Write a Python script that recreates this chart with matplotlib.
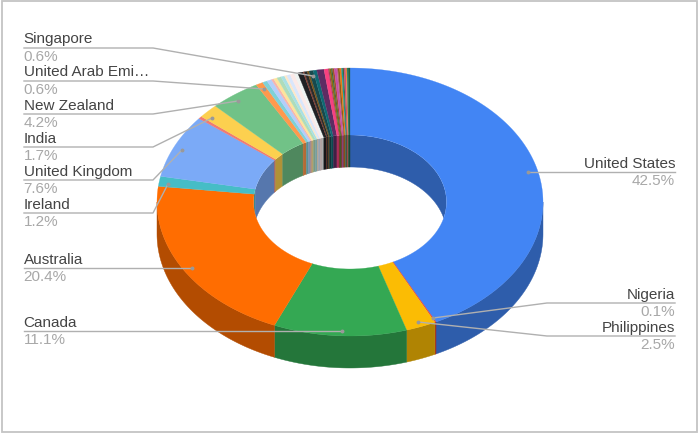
import numpy as np
import matplotlib
matplotlib.use('Agg')
import matplotlib.pyplot as plt
from matplotlib.colors import to_rgb
from matplotlib.patches import Ellipse, Rectangle

plt.rcParams['font.family'] = ['Liberation Sans', 'DejaVu Sans']

# the data, clockwise from 12 o'clock
countries = ['United States', 'Nigeria', 'Philippines', 'Canada', 'Australia', 'Ireland',
             'United Kingdom', 'other1', 'India', 'New Zealand', 'United Arab Emi…',
             'o2', 'o3', 'o4', 'o5', 'o6', 'o7', 'o8', 'o9', 'o10', 'o11',
             'o12', 'o13', 'o14', 'o15', 'o16', 'o17', 'Singapore',
             'o18', 'o19', 'o20', 'o21', 'o22', 'o23', 'o24', 'o25', 'o26', 'o27',
             'o28', 'o29', 'o30', 'o31', 'o32']
shares = [42.5, 0.1, 2.5, 11.1, 20.4, 1.2,
          7.6, 0.3, 1.7, 4.2, 0.6,
          0.4, 0.4, 0.2, 0.3, 0.35, 0.3, 0.2, 0.3, 0.35, 0.3,
          0.45, 0.1, 0.25, 0.15, 0.35, 0.3, 0.6,
          0.35, 0.1, 0.15, 0.1, 0.15, 0.2, 0.1, 0.15, 0.15, 0.1,
          0.1, 0.15, 0.1, 0.1, 0.15]
colors = ['#4285f4', '#ea4335', '#fbbc04', '#34a853', '#ff6d01', '#46bdc6',
          '#7baaf7', '#f07b72', '#fcd04f', '#71c287', '#ff994d',
          '#7ed1d7', '#b3cefb', '#f7b4ae', '#fde49b', '#aedcba', '#a9e0e4', '#fee8c8',
          '#d9e6fc', '#fbe9e7', '#eef3f1',
          '#202124', '#8a3b2c', '#2b2b2b', '#7a5518', '#17494d', '#0f6a75', '#5e2c63',
          '#f8407f', '#a03d5c', '#8a6a10', '#2f6b3a', '#a0522d', '#c64fa8', '#c06090',
          '#8d5a1a', '#e67c13', '#159aa5',
          '#3a6b3a', '#c94f7c', '#f28b3a', '#2a7a6a', '#20603d']

label_names = ['Singapore', 'United Arab Emi…', 'New Zealand', 'India', 'United Kingdom',
               'Ireland', 'Australia', 'Canada']
label_pcts = ['0.6%', '0.6%', '4.2%', '1.7%', '7.6%', '1.2%', '20.4%', '11.1%']
right_names = ['United States', 'Nigeria', 'Philippines']
right_pcts = ['42.5%', '0.1%', '2.5%']

cx, cy = 350, 202
rx, ry = 193, 134
hx, hy = 96.5, 67
depth = 32

fig = plt.figure(figsize=(7, 4.36), dpi=100)
ax = fig.add_axes([0, 0, 1, 1])
ax.set_xlim(0, 700)
ax.set_ylim(436, 0)
ax.axis('off')

ax.add_patch(Rectangle((1.5, 1), 695, 431, fill=False, ec='#c4c4c4', lw=1.3))


def ring_xy(a, x_r, y_r, dy=0):
    t = np.radians(a)
    return cx + x_r * np.sin(t), cy - y_r * np.cos(t) + dy


def darker(c, f=0.7):
    return tuple(v * f for v in to_rgb(c))


edges = np.concatenate([[0], np.cumsum(shares)]) / sum(shares) * 360
hole = Ellipse((cx, cy), 2 * hx, 2 * hy, transform=ax.transData, fc='none', ec='none')
ax.add_patch(hole)

for i in range(len(shares)):
    a0, a1 = edges[i], edges[i + 1]
    c = colors[i]

    # outer wall, front half only
    s0, s1 = max(a0, 90), min(a1, 270)
    if s1 > s0:
        aa = np.linspace(s0, s1, 60)
        x, y = ring_xy(aa, rx, ry)
        ax.fill(np.r_[x, x[::-1]], np.r_[y, y[::-1] + depth], color=darker(c), lw=0.3, zorder=1)

    # inner wall, far half only, seen through the hole
    for s0, s1 in [(a0, min(a1, 90)), (max(a0, 270), a1)]:
        if s1 > s0:
            aa = np.linspace(s0, s1, 40)
            x, y = ring_xy(aa, hx, hy)
            p = ax.fill(np.r_[x, x[::-1]], np.r_[y, y[::-1] + depth],
                        color=darker(c), lw=0.3, zorder=1)
            p[0].set_clip_path(hole)

    # top face
    aa = np.linspace(a0, a1, max(int(a1 - a0) * 2, 4))
    xo, yo = ring_xy(aa, rx, ry)
    xi, yi = ring_xy(aa, hx, hy)
    ax.fill(np.r_[xo, xi[::-1]], np.r_[yo, yi[::-1]], color=c, lw=0.2, zorder=2)

# leaders
line_c = '#b0b0b0'
left_lines = [
    ([24, 153, 313], [48, 48, 76]),
    ([24, 153, 264], [81, 81, 89]),
    ([24, 153, 238], [114, 114, 101]),
    ([24, 153, 212], [147, 147, 118]),
    ([24, 153, 182], [180, 180, 150]),
    ([24, 153, 168], [213, 213, 184]),
    ([24, 192], [268, 268]),
    ([24, 342], [331, 331]),
]
right_lines = [
    ([675, 575, 528], [172, 172, 172]),
    ([675, 547, 433], [303, 303, 318]),
    ([675, 547, 418], [336, 336, 322]),
]
for xs, ys in left_lines + right_lines:
    ax.plot(xs, ys, color=line_c, lw=1.0, zorder=3, solid_joinstyle='round')
    ax.plot(xs[-1], ys[-1], 'o', ms=1.8, color='#999999', zorder=3)

name_c = '#444444'
pct_c = '#a8a8a8'
fs = 11
for (xs, ys), n, p in zip(left_lines, label_names, label_pcts):
    ax.text(23.5, ys[0] - 1.5, n, color=name_c, fontsize=fs, ha='left', va='bottom', zorder=4)
    ax.text(23.5, ys[0] + 2, p, color=pct_c, fontsize=fs, ha='left', va='top', zorder=4)
for (xs, ys), n, p in zip(right_lines, right_names, right_pcts):
    ax.text(675, ys[0] - 1.5, n, color=name_c, fontsize=fs, ha='right', va='bottom', zorder=4)
    ax.text(675, ys[0] + 2, p, color=pct_c, fontsize=fs, ha='right', va='top', zorder=4)

fig.savefig('out.png', dpi=100)
